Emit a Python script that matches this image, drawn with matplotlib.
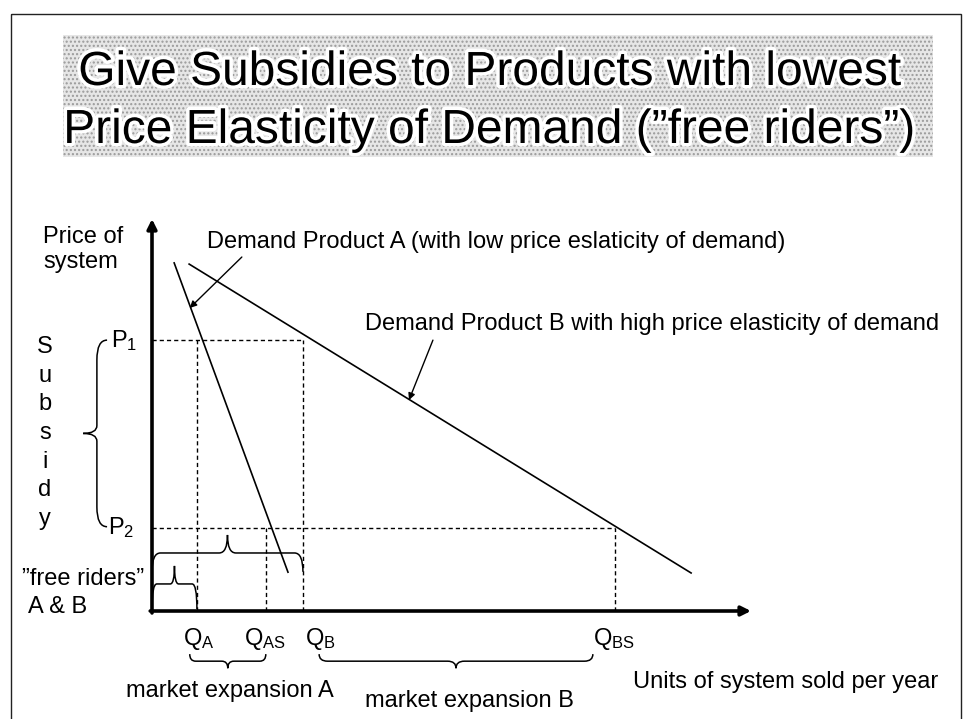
import numpy as np
import matplotlib
matplotlib.use('Agg')
import matplotlib.pyplot as plt
from matplotlib.path import Path
from matplotlib.patches import PathPatch, Rectangle
import matplotlib.patheffects as pe

plt.rcParams['font.family'] = ['Liberation Sans', 'DejaVu Sans']
plt.rcParams['mathtext.fontset'] = 'custom'
plt.rcParams['mathtext.rm'] = 'Liberation Sans'
plt.rcParams['mathtext.it'] = 'Liberation Sans:italic'

# chart values (axis units 0..100)
P1, P2 = 69.1, 21.3
QA, QAS, QB, QBS = 7.5, 19.0, 25.2, 77.3
demand_a_q = [3.7, 22.7]
demand_a_p = [88.8, 9.9]
demand_b_q = [6.2, 90.0]
demand_b_p = [88.5, 9.7]

title_lines = ['Give Subsidies to Products with lowest',
               'Price Elasticity of Demand (\u201dfree riders\u201d)']
q_labels = [r'Q$_\mathrm{A}$', r'Q$_\mathrm{AS}$', r'Q$_\mathrm{B}$', r'Q$_\mathrm{BS}$']
q_label_x = [199, 265, 320, 614]
subsidy = list('Subsidy')

W, H = 963, 719
fig = plt.figure(figsize=(W / 100, H / 100), dpi=100)

# background axes in pixel coordinates
bg = fig.add_axes([0, 0, 1, 1])
bg.set_xlim(0, W)
bg.set_ylim(H, 0)
bg.axis('off')

bg.add_patch(Rectangle((11, 14), 950, 720, fill=False, edgecolor='#222222', lw=1.0))
bg.add_patch(Rectangle((63, 35), 870, 122, facecolor='#e6e6e6', edgecolor='#9a9a9a',
                       hatch='....', lw=0))
halo = [pe.withStroke(linewidth=5, foreground='white')]
bg.text(490, 85, title_lines[0], fontsize=34.5, ha='center', va='baseline', path_effects=halo)
bg.text(489, 143, title_lines[1], fontsize=34.5, ha='center', va='baseline', path_effects=halo)

fs = 17
bg.text(43, 243, 'Price of', fontsize=fs, va='baseline')
bg.text(43, 268, 'system', fontsize=fs, va='baseline')
bg.text(207, 248, 'Demand Product A (with low price eslaticity of demand)', fontsize=fs, va='baseline')
bg.text(365, 330, 'Demand Product B with high price elasticity of demand', fontsize=fs, va='baseline')
for i, ch in enumerate(subsidy):
    bg.text(45, 353 + 28.7 * i, ch, fontsize=fs, ha='center', va='baseline')
bg.text(22, 585, '\u201dfree riders\u201d', fontsize=fs, va='baseline')
bg.text(28, 613, 'A & B', fontsize=fs, va='baseline')
for lab, x in zip(q_labels, q_label_x):
    bg.text(x, 645, lab, fontsize=fs, ha='center', va='baseline')
bg.text(230, 697, 'market expansion A', fontsize=fs, ha='center', va='baseline')
bg.text(365, 707, 'market expansion B', fontsize=fs, va='baseline')
bg.text(633, 688, 'Units of system sold per year', fontsize=fs, va='baseline')

# chart axes
x0, y0, x1, y1 = 152, 611, 751, 219
ax = fig.add_axes([x0 / W, (H - y0) / H, (x1 - x0) / W, (y0 - y1) / H])
ax.set_xlim(0, 100)
ax.set_ylim(0, 100)
ax.axis('off')

ax.text(-2.4, P1, r'P$_\mathrm{1}$', fontsize=fs, ha='right', va='center')
ax.text(-3.0, P2, r'P$_\mathrm{2}$', fontsize=fs, ha='right', va='center')

ax.annotate('', xy=(0, 100), xytext=(0, -0.5),
            arrowprops=dict(arrowstyle='-|>', lw=2.6, color='black', mutation_scale=14,
                            shrinkA=0, shrinkB=0))
ax.annotate('', xy=(100, 0), xytext=(-0.3, 0),
            arrowprops=dict(arrowstyle='-|>', lw=2.6, color='black', mutation_scale=14,
                            shrinkA=0, shrinkB=0))

dash = dict(color='black', lw=1.0, ls=(0, (3, 2.2)))
ax.plot([0, QB], [P1, P1], **dash)
ax.plot([QA, QA], [0, P1], **dash)
ax.plot([QB, QB], [0, P1], **dash)
ax.plot([0, QBS], [P2, P2], **dash)
ax.plot([QAS, QAS], [0, P2], **dash)
ax.plot([QBS, QBS], [0, P2], **dash)

ax.plot(demand_a_q, demand_a_p, color='black', lw=1.2)
ax.plot(demand_b_q, demand_b_p, color='black', lw=1.2)

arrow = dict(arrowstyle='-|>', lw=1.0, color='black', mutation_scale=10, shrinkA=0, shrinkB=0)
ax.annotate('', xy=(6.3, 77.3), xytext=(15.0, 90.3), arrowprops=arrow, annotation_clip=False)
ax.annotate('', xy=(42.9, 53.8), xytext=(46.9, 69.1), arrowprops=arrow, annotation_clip=False)


def hbrace(a, b, y, y_end, y_tip, r_end, r_tip, xm=None):
    if xm is None:
        xm = (a + b) / 2
    verts = [(a, y_end), (a, y), (a + r_end, y), (xm - r_tip, y), (xm, y), (xm, y_tip),
             (xm, y), (xm + r_tip, y), (b - r_end, y), (b, y), (b, y_end)]
    codes = [Path.MOVETO, Path.CURVE3, Path.CURVE3, Path.LINETO, Path.CURVE3, Path.CURVE3,
             Path.CURVE3, Path.CURVE3, Path.LINETO, Path.CURVE3, Path.CURVE3]
    ax.add_patch(PathPatch(Path(verts, codes), fill=False, lw=1.1, color='black', clip_on=False))


def vbrace(a, b, x, x_end, x_tip, r_end, r_tip):
    ym = (a + b) / 2
    verts = [(x_end, a), (x, a), (x, a - r_end), (x, ym + r_tip), (x, ym), (x_tip, ym),
             (x, ym), (x, ym - r_tip), (x, b + r_end), (x, b), (x_end, b)]
    codes = [Path.MOVETO, Path.CURVE3, Path.CURVE3, Path.LINETO, Path.CURVE3, Path.CURVE3,
             Path.CURVE3, Path.CURVE3, Path.LINETO, Path.CURVE3, Path.CURVE3]
    ax.add_patch(PathPatch(Path(verts, codes), fill=False, lw=1.1, color='black', clip_on=False))


hbrace(0, QB, 14.8, 10.0, 19.4, 1.4, 1.4)
hbrace(0, QA, 6.9, 0.5, 11.5, 0.8, 0.7)
hbrace(6.3, QAS, -12.8, -11.0, -14.6, 1.0, 1.0)
hbrace(27.9, 73.6, -12.8, -11.0, -14.6, 1.4, 1.4)
vbrace(P1, 21.5, -9.2, -7.5, -11.5, 5.0, 2.0)

fig.savefig('out.png', dpi=100)
